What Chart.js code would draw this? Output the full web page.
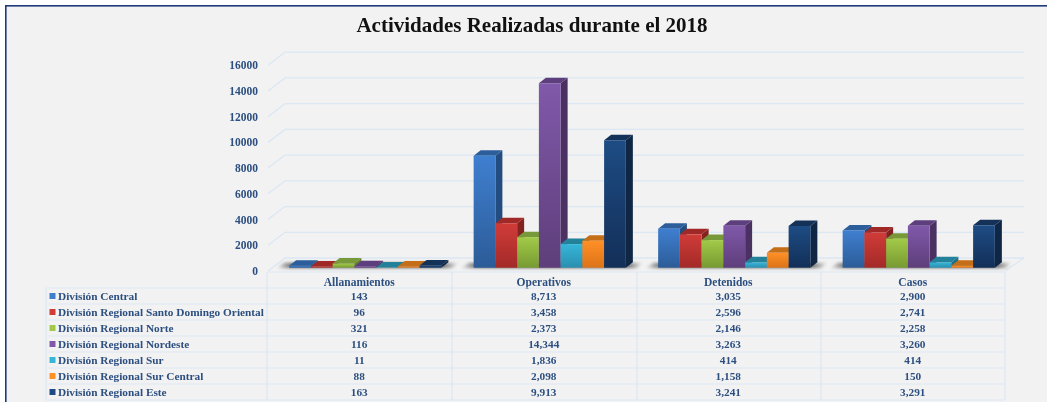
<!DOCTYPE html>
<html lang="es"><head><meta charset="utf-8"><title>Actividades Realizadas durante el 2018</title>
<style>html,body{margin:0;padding:0;background:#fff;overflow:hidden}canvas{display:block;filter:blur(0.35px)}</style>
<script src="https://cdn.jsdelivr.net/npm/chart.js@4/dist/chart.umd.min.js"></script></head>
<body><canvas id="c" width="1047" height="402"></canvas>
<script>
const titleText = 'Actividades Realizadas durante el 2018';
const categories = ['Allanamientos','Operativos','Detenidos','Casos'];
const seriesNames = ['División Central','División Regional Santo Domingo Oriental','División Regional Norte','División Regional Nordeste','División Regional Sur','División Regional Sur Central','División Regional Este'];
const divisionCentral = [143,8713,3035,2900];
const santoDomingoOriental = [96,3458,2596,2741];
const regionalNorte = [321,2373,2146,2258];
const regionalNordeste = [116,14344,3263,3260];
const regionalSur = [11,1836,414,414];
const regionalSurCentral = [88,2098,1158,150];
const regionalEste = [163,9913,3241,3291];
const seriesValues = [divisionCentral,santoDomingoOriental,regionalNorte,regionalNordeste,regionalSur,regionalSurCentral,regionalEste];
const colorTop = ['#3f7fd0','#d03c38','#a2ca48','#8059aa','#36b6d8','#ff9026','#1d4c84'];
const colorBottom = ['#2c5c98','#a32a28','#779a32','#5e3e7a','#2a8fb0','#dc7318','#132f58'];
const colorLid = ['#2c5e9c','#a02826','#77993a','#5e3f7e','#24819a','#c46e18','#143158'];
const colorSide = ['#234d80','#842220','#64812c','#4a3162','#1f6f88','#a85e12','#0f2644'];
const textColor = '#2c4f80', gridColor = '#dce7f4';
const font = 'bold 11.3px "Liberation Serif", serif';
const DX = 17, DY = 13, depthX = 7, depthY = 5.5, barShiftX = 6, barShiftY = -3.3;

const wall3d = {
  id:'wall3d',
  beforeDraw(chart){
    const {ctx,width,height,chartArea:a,scales:{y}} = chart;
    ctx.save();
    ctx.fillStyle='#fff';ctx.fillRect(0,0,width,height);
    ctx.fillStyle='#f2f2f2';ctx.fillRect(6,6,width-6,height-6);
    ctx.fillStyle='#1f3a7c';ctx.fillRect(5,5,width-5,1.6);ctx.fillRect(5,5,1.6,height-5);
    ctx.strokeStyle=gridColor;ctx.lineWidth=1.3;
    y.ticks.forEach(t=>{
      const p=y.getPixelForValue(t.value);
      ctx.beginPath();ctx.moveTo(a.left+1,p);ctx.lineTo(a.left+1+DX,p-DY);
      ctx.lineTo(1024,p-DY);ctx.stroke();
    });
    ctx.beginPath();ctx.moveTo(a.right,a.bottom);ctx.lineTo(1024,a.bottom-DY);ctx.stroke();
    ctx.restore();
  },
  beforeDatasetsDraw(chart){
    const {ctx}=chart, first=chart.getDatasetMeta(0).data, last=chart.getDatasetMeta(6).data;
    ctx.save();
    ctx.filter='blur(1.6px)';
    first.forEach((b,i)=>{
      const l=b.x-b.width/2+barShiftX-13, r=last[i].x+last[i].width/2+barShiftX+17, base=b.base+barShiftY;
      const g=ctx.createLinearGradient(l,0,r,0);
      g.addColorStop(0,'rgba(40,40,40,0)');g.addColorStop(.08,'rgba(40,40,40,.6)');
      g.addColorStop(.92,'rgba(40,40,40,.6)');g.addColorStop(1,'rgba(40,40,40,0)');
      ctx.fillStyle=g;
      ctx.beginPath();ctx.moveTo(l,base+.5);ctx.lineTo(l+8,base-5);ctx.lineTo(r,base-5);ctx.lineTo(r-6,base+.5);ctx.closePath();ctx.fill();
    });
    ctx.restore();
    // paint left to right so each bar's front covers its left neighbour's side
    ctx.save();
    ctx.translate(barShiftX,barShiftY);
    seriesValues.forEach((_,i)=>{
      const meta=chart.getDatasetMeta(i);
      meta.data.forEach(b=>{
        const x0=b.x-b.width/2,x1=b.x+b.width/2,y0=b.y,yb=b.base;
        ctx.fillStyle=colorSide[i];
        ctx.beginPath();ctx.moveTo(x1,y0);ctx.lineTo(x1+depthX,y0-depthY);ctx.lineTo(x1+depthX,yb-depthY);ctx.lineTo(x1,yb);ctx.closePath();ctx.fill();
        ctx.fillStyle=colorLid[i];
        ctx.beginPath();ctx.moveTo(x0,y0);ctx.lineTo(x0+depthX,y0-depthY);ctx.lineTo(x1+depthX,y0-depthY);ctx.lineTo(x1,y0);ctx.closePath();ctx.fill();
      });
      meta.controller.draw();
    });
    ctx.restore();
    return false;
  },
  afterDraw(chart){
    const {ctx,scales:{x}}=chart;
    const cols=[46,267,452,637,821,1005], rows=[288,304,320,336,352,368,384,400];
    ctx.save();
    ctx.strokeStyle=gridColor;ctx.lineWidth=1.2;
    ctx.beginPath();
    ctx.moveTo(267,272);ctx.lineTo(1005,272);
    rows.forEach(r=>{ctx.moveTo(46,r);ctx.lineTo(1005,r);});
    cols.forEach((c,i)=>{ctx.moveTo(c,i===0?288:272);ctx.lineTo(c,400);});
    ctx.stroke();
    ctx.font=font;ctx.textBaseline='middle';
    seriesNames.forEach((n,s)=>{
      const yc=(rows[s]+rows[s+1])/2;
      ctx.fillStyle=colorTop[s];ctx.fillRect(49.5,yc-3,6,6);
      ctx.fillStyle=textColor;ctx.textAlign='left';
      ctx.fillText(n,58,yc+.6);
      ctx.textAlign='center';
      categories.forEach((_,c)=>{
        ctx.fillText(seriesValues[s][c].toLocaleString('en-US'),x.getPixelForValue(c),yc+.6);
      });
    });
    ctx.restore();
  }
};

new Chart(document.getElementById('c'),{
  type:'bar',
  plugins:[wall3d],
  data:{labels:categories,datasets:seriesValues.map((d,i)=>({
    label:seriesNames[i],data:d,clip:false,borderWidth:0,
    barPercentage:1,categoryPercentage:0.825,
    backgroundColor(ctx){
      const s=ctx.chart.scales.y;
      const v=ctx.parsed?ctx.parsed.y:ctx.raw;
      if(!s||!Number.isFinite(v)) return colorTop[i];
      const p0=s.getPixelForValue(v),p1=s.getPixelForValue(0);
      if(!Number.isFinite(p0)||!Number.isFinite(p1)) return colorTop[i];
      const g=ctx.chart.ctx.createLinearGradient(0,p0,0,p1);
      g.addColorStop(0,colorTop[i]);g.addColorStop(1,colorBottom[i]);
      return g;
    }
  }))},
  options:{
    responsive:false,animation:false,
    layout:{padding:{left:59,right:42,top:14,bottom:0}},
    plugins:{
      legend:{display:false},tooltip:{enabled:false},
      title:{display:true,text:titleText,color:'#111',align:'center',
        font:{family:'"Liberation Serif", serif',size:21,weight:'bold'},
        padding:{top:0,bottom:26}}
    },
    scales:{
      x:{grid:{display:false,drawTicks:false},border:{display:false},
        afterFit(s){s.height=131;},
        ticks:{color:textColor,padding:5,maxRotation:0,autoSkip:false,font:{family:'"Liberation Serif", serif',size:11.5,weight:'bold'}}},
      y:{min:0,max:16000,grid:{display:false,drawTicks:false},border:{display:false},
        afterFit(s){s.width=208;},
        ticks:{stepSize:2000,color:textColor,padding:9,labelOffset:1,callback:v=>String(v),font:{family:'"Liberation Serif", serif',size:11.5,weight:'bold'}}}
    }
  }
});
</script></body></html>
